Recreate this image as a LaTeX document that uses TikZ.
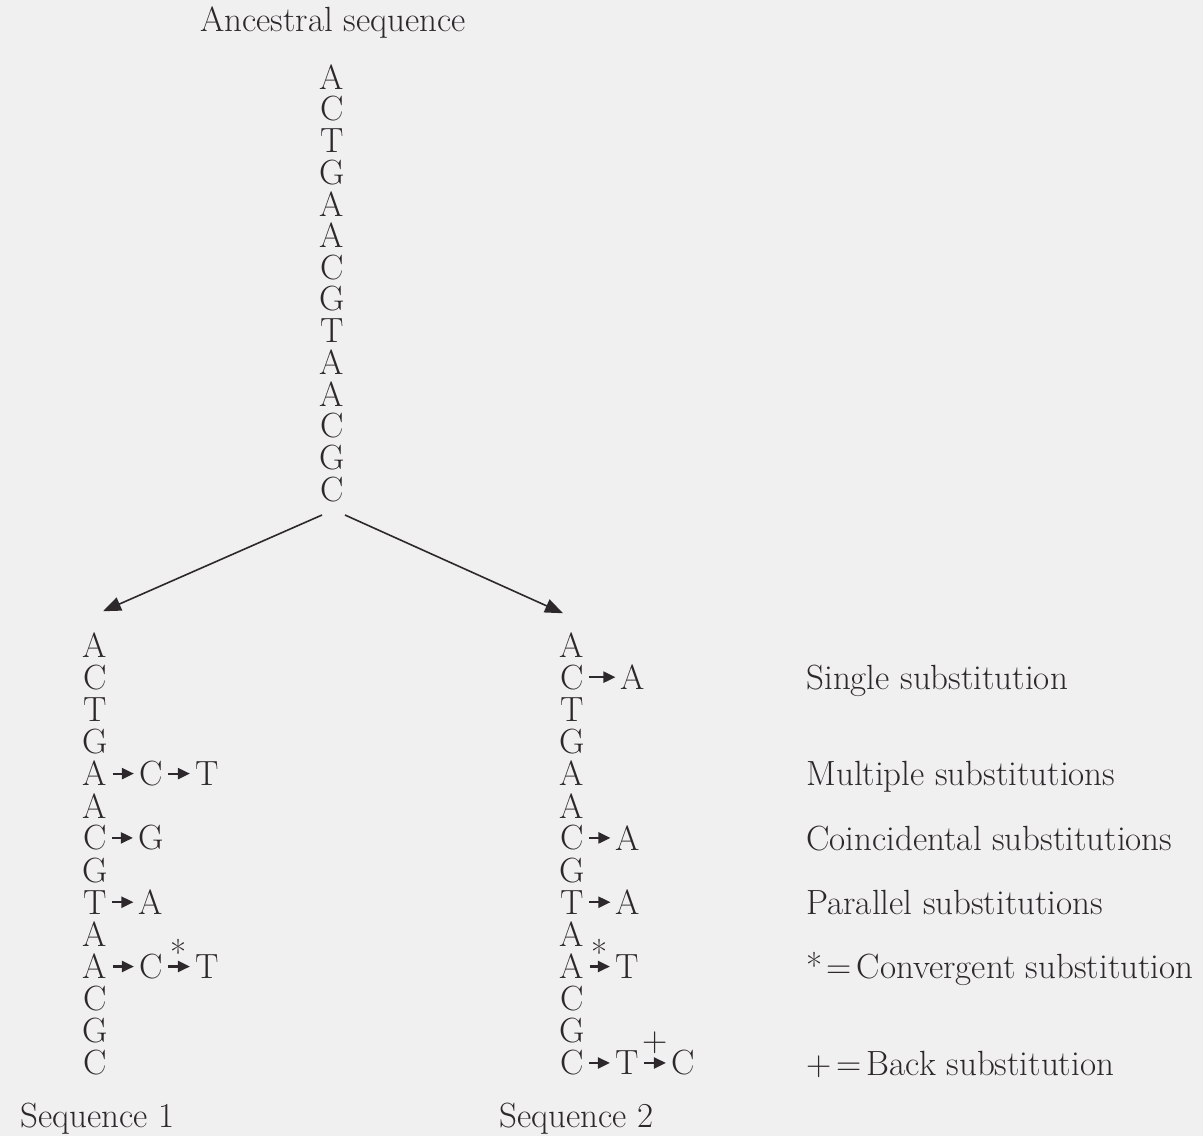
\documentclass[tikz,border=0pt]{standalone}
\usetikzlibrary{arrows.meta}

\definecolor{ink}{RGB}{45,40,44}
\definecolor{paper}{RGB}{241,240,240}

\tikzset{
    nuc/.style={inner xsep=2.5pt, inner ysep=0.5pt, text=ink, font=\fontsize{17.5}{21}\selectfont},
    note/.style={inner sep=0pt, text=ink, font=\fontsize{17.5}{21}\selectfont},
    subst/.style={draw=ink, line width=1.1pt, -{Triangle[length=6pt,width=5.5pt]}},
    branch/.style={draw=ink, line width=0.8pt, -{Triangle[length=9pt,width=7pt]}}
}

\begin{document}
\begin{tikzpicture}[x=0.5pt,y=-0.5pt]

    % Page background
    \fill[paper] (0,0) rectangle (1203,1136);
    \useasboundingbox (0,0) rectangle (1203,1136);

    % Draw the ancestral sequence
    \node[nuc, anchor=base west] (anctitle) at (195,31) {Ancestral sequence};
    \foreach \b [count=\i] in {A,C,T,G,A,A,C,G,T,A,A,C,G,C}
        \node[nuc] (anc\i) at (332,{77+31.7*(\i-1)}) {\b};

    % Draw sequence 1
    \foreach \b [count=\i] in {A,C,T,G,A,A,C,G,T,A,A,C,G,C}
        \node[nuc] (sa\i) at (95,{645+32.15*(\i-1)}) {\b};
    \node[nuc] (sa5b) at ([xshift=28pt]sa5) {C};
    \node[nuc] (sa5c) at ([xshift=56pt]sa5) {T};
    \node[nuc] (sa7b) at ([xshift=28pt]sa7) {G};
    \node[nuc] (sa9b) at ([xshift=28pt]sa9) {A};
    \node[nuc] (sa11b) at ([xshift=28pt]sa11) {C};
    \node[nuc] (sa11c) at ([xshift=56pt]sa11) {T};

    \draw[subst] (sa5) -- (sa5b);
    \draw[subst] (sa5b) -- (sa5c);
    \draw[subst] (sa7) -- (sa7b);
    \draw[subst] (sa9) -- (sa9b);
    \draw[subst] (sa11) -- (sa11b);
    \draw[subst] (sa11b) -- node[note, above=0pt] (conva) {*} (sa11c);

    % Draw sequence 2
    \foreach \b [count=\i] in {A,C,T,G,A,A,C,G,T,A,A,C,G,C}
        \node[nuc] (sb\i) at (572,{645+32.15*(\i-1)}) {\b};
    \node[nuc] (sb2b) at ([xshift=30.5pt]sb2) {A};
    \node[nuc] (sb7b) at ([xshift=28pt]sb7) {A};
    \node[nuc] (sb9b) at ([xshift=28pt]sb9) {A};
    \node[nuc] (sb11b) at ([xshift=27.5pt]sb11) {T};
    \node[nuc] (sb14b) at ([xshift=27.5pt]sb14) {T};
    \node[nuc] (sb14c) at ([xshift=55.5pt]sb14) {C};

    \draw[subst] (sb2) -- (sb2b);
    \draw[subst] (sb7) -- (sb7b);
    \draw[subst] (sb9) -- (sb9b);
    \draw[subst] (sb11) -- node[note, above=0pt] (convb) {*} (sb11b);
    \draw[subst] (sb14) -- (sb14b);
    \draw[subst] (sb14b) -- node[note, above=4pt] (backb) {+} (sb14c);

    % Split into the two descendants
    \draw[branch] ([xshift=-5pt,yshift=-6pt]anc14.south) -- ([xshift=4pt,yshift=10pt]sa1.north);
    \draw[branch] ([xshift=6.5pt,yshift=-6pt]anc14.south) -- ([xshift=-4.5pt,yshift=9pt]sb1.north);

    % Label the sequences
    \node[nuc, anchor=base west] (seqa) at (15,1127) {Sequence 1};
    \node[nuc, anchor=base west] (seqb) at (494,1127) {Sequence 2};

    % Legend
    \node[nuc, anchor=base west] (single) at (801,689) {Single substitution};
    \node[nuc, anchor=base west] (multiple) at (801,785) {Multiple substitutions};
    \node[nuc, anchor=base west] (coincid) at (801,850) {Coincidental substitutions};
    \node[nuc, anchor=base west] (parallel) at (801,914) {Parallel substitutions};
    \node[nuc, anchor=base west] (converg) at (801,978) {*\kern2pt=\kern2.5pt Convergent substitution};
    \node[nuc, anchor=base west] (back) at (801,1075) {+\kern2.5pt=\kern2.5pt Back substitution};

\end{tikzpicture}
\end{document}
